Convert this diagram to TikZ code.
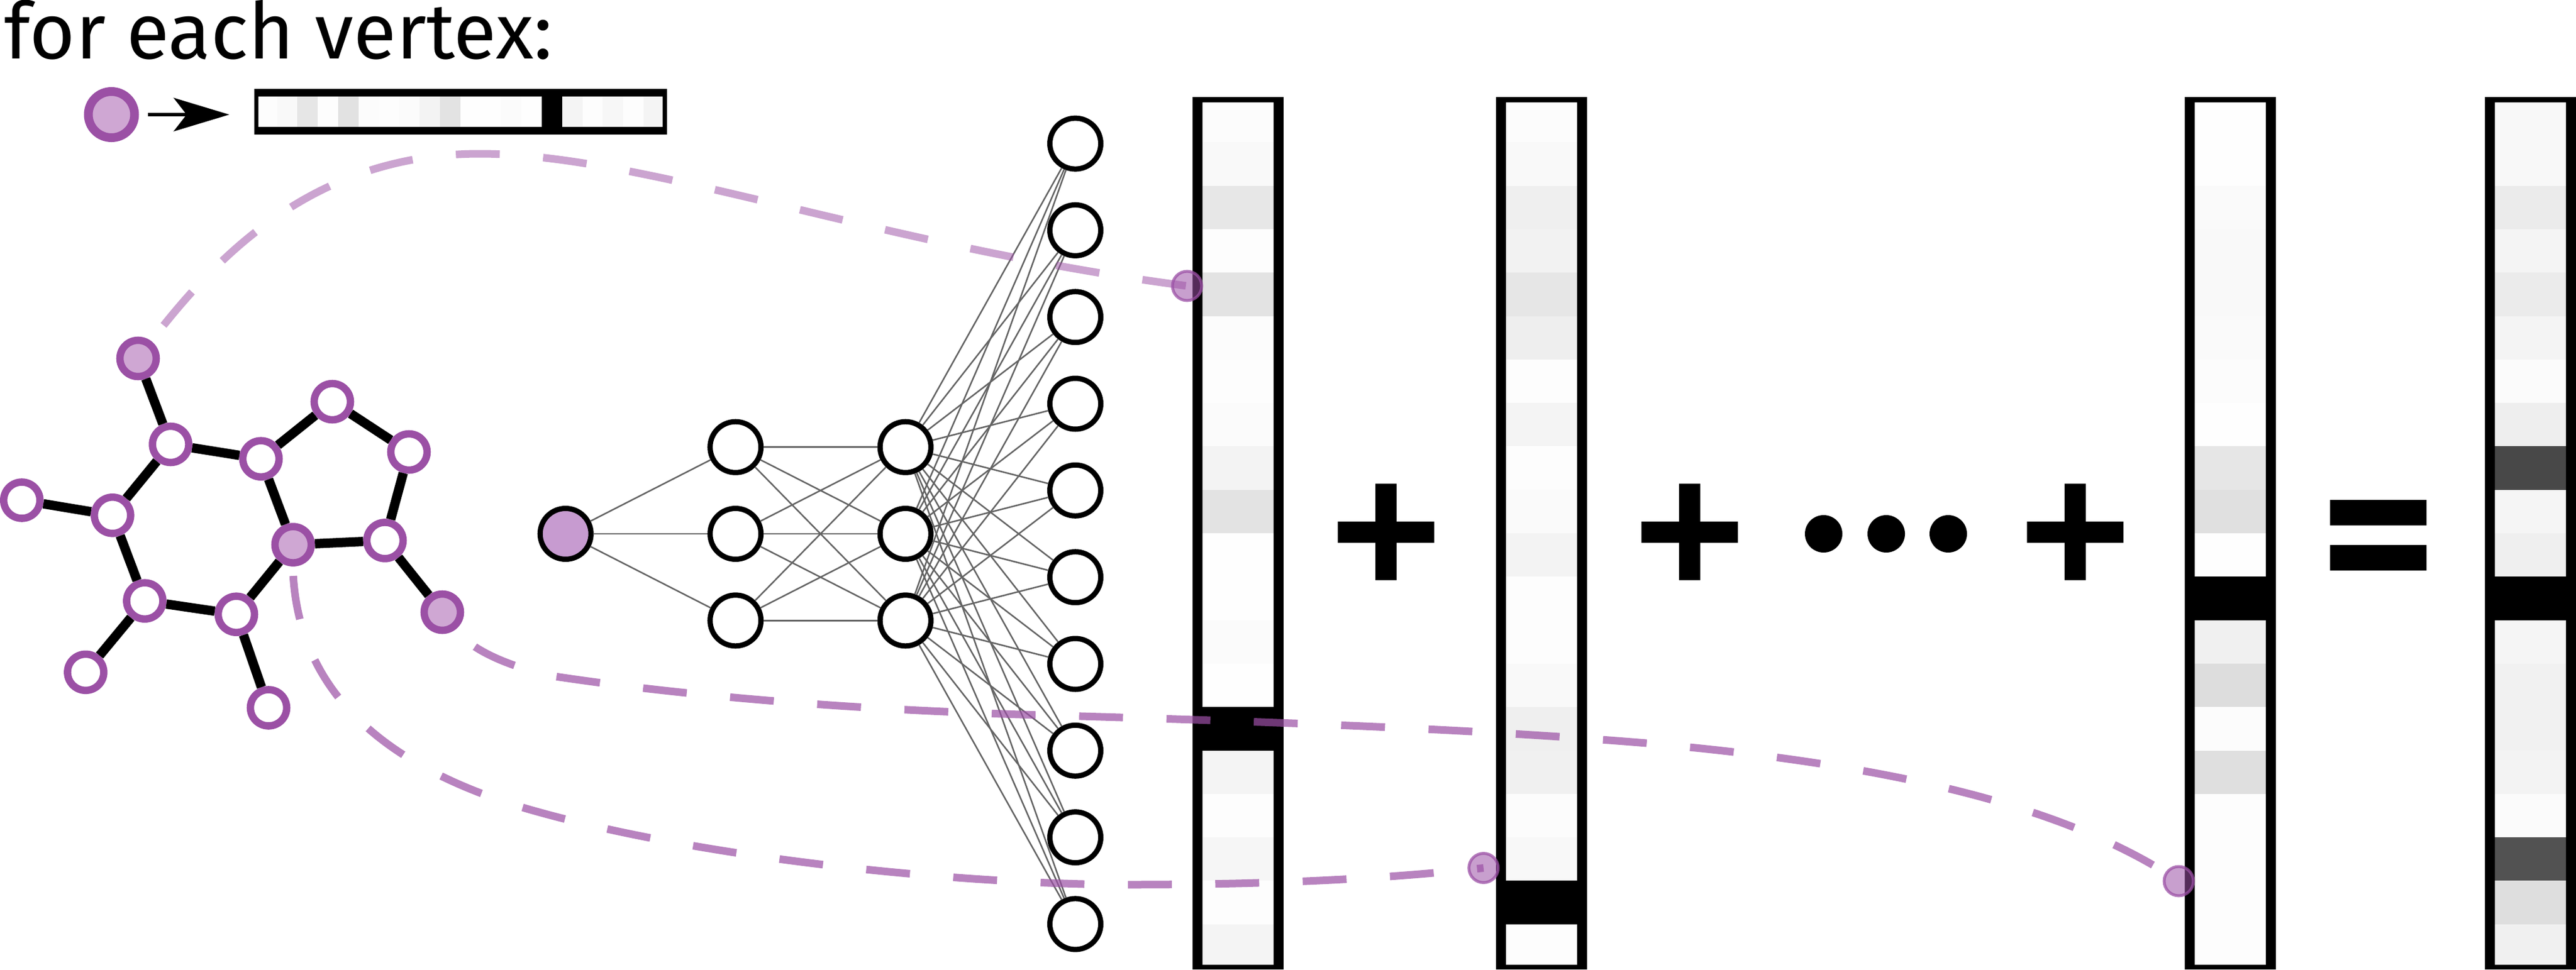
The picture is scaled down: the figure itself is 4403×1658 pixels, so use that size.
\documentclass[tikz,border=0pt]{standalone}
\usepackage{fontspec}
\setmainfont{Fira Sans}
\newfontfamily\signfont{Open Sans}
\usetikzlibrary{arrows.meta}

% one column of grey cells, with the black frame round it
\newcommand{\vecbar}[2]{
  \foreach \g [count=\i from 0] in {#2}
    \fill[color={rgb,255:red,\g;green,\g;blue,\g}] ({#1+10},{169+\i*74.3}) rectangle +(135.5,74.3);
  \fill[black,even odd rule] (#1,166) rectangle +(155.5,1492) ({#1+17},175) rectangle +(121.5,1475);
}

\definecolor{vertexpurple}{RGB}{155,80,165}
\definecolor{vertexfill}{RGB}{207,167,211}
\definecolor{inputfill}{RGB}{199,155,208}

\begin{document}
\begin{tikzpicture}[x=1pt,y=-1pt,
  mol node/.style={circle,draw=vertexpurple,fill=white,line width=12.6pt,inner sep=0pt,minimum size=62pt},
  mol pick/.style={mol node,fill=vertexfill},
  net node/.style={circle,draw=black,fill=white,line width=9pt,inner sep=0pt,minimum size=87pt},
  tip node/.style={circle,draw=vertexpurple,fill=vertexpurple,fill opacity=.55,draw opacity=.75,line width=5pt,inner sep=0pt,minimum size=50pt},
  big sign/.style={inner sep=0pt,font=\signfont\fontsize{340}{340}\selectfont\bfseries},
  dot sign/.style={circle,fill=black,inner sep=0pt,minimum size=64pt},
  bond/.style={line width=16pt},
  wire/.style={line width=2.6pt,draw={rgb,255:red,100;green,100;blue,100}},
  trail/.style={vertexpurple,line width=13pt,draw opacity=.71,dash pattern=on 75pt off 74.4pt}]

  \useasboundingbox (0,0) rectangle (4403,1658);

  \node[anchor=base west,inner sep=0pt,font=\fontsize{134}{134}\selectfont] (title) at (7,100) {for each vertex:};

  % legend
  \foreach \g [count=\i from 0] in {253,249,230,253,226,252,253,251,243,227,254,254,251,254,0,244,253,247,253,244}
    \fill[color={rgb,255:red,\g;green,\g;blue,\g}] ({438.8+\i*34.8},160) rectangle +(34.8,60);
  \fill[black,even odd rule] (434.6,152) rectangle (1140,230) (441.5,165) rectangle (1132.5,217);
  \node[mol pick,line width=15pt,minimum size=79pt] (legend) at (190.5,196) {};
  \coordinate (legendbar) at (434.6,196);
  \draw[-{Stealth[length=95pt,width=57pt,inset=22pt]},line width=6.6pt,shorten <=15pt,shorten >=42.6pt] (legend) -- (legendbar);

  % molecule
  \node[mol pick] (a) at (236,613) {};
  \node[mol node] (b) at (291.6,760) {};
  \node[mol node] (c) at (446,784.7) {};
  \node[mol node] (d) at (568,687) {};
  \node[mol node] (e) at (699,773) {};
  \node[mol node] (f) at (658,924.4) {};
  \node[mol pick] (g) at (501,931.6) {};
  \node[mol node] (h) at (404,1050.7) {};
  \node[mol node] (i) at (247.4,1027.7) {};
  \node[mol node] (j) at (192.3,881.3) {};
  \node[mol node] (k) at (37.3,855.5) {};
  \node[mol node] (l) at (146.4,1149.8) {};
  \node[mol node] (m) at (459,1210.5) {};
  \node[mol pick] (n) at (756,1047) {};

  \path[bond]
    (a) edge (b)
    (b) edge (c)
        edge (j)
    (c) edge (d)
        edge (g)
    (d) edge (e)
    (e) edge (f)
    (f) edge (g)
        edge (n)
    (g) edge (h)
    (h) edge (i)
        edge (m)
    (i) edge (j)
        edge (l)
    (j) edge (k);

  % network
  \node[net node,fill=inputfill] (in) at (966.7,913) {};
  \node[net node] (p1) at (1257.2,764.7) {};
  \node[net node] (p2) at (1257.2,913) {};
  \node[net node] (p3) at (1257.2,1061.3) {};
  \node[net node] (q1) at (1547.7,764.7) {};
  \node[net node] (q2) at (1547.7,913) {};
  \node[net node] (q3) at (1547.7,1061.3) {};
  \node[net node] (r0) at (1838,245.6) {};
  \node[net node] (r1) at (1838,393.9) {};
  \node[net node] (r2) at (1838,542.2) {};
  \node[net node] (r3) at (1838,690.5) {};
  \node[net node] (r4) at (1838,838.8) {};
  \node[net node] (r5) at (1838,987.2) {};
  \node[net node] (r6) at (1838,1135.5) {};
  \node[net node] (r7) at (1838,1283.8) {};
  \node[net node] (r8) at (1838,1432.1) {};
  \node[net node] (r9) at (1838,1580.4) {};

  \path[wire]
    (in) edge (p1) edge (p2) edge (p3)
    (p1) edge (q1) edge (q2) edge (q3)
    (p2) edge (q1) edge (q2) edge (q3)
    (p3) edge (q1) edge (q2) edge (q3)
    (q1) edge (r0) edge (r1) edge (r2) edge (r3) edge (r4) edge (r5) edge (r6) edge (r7) edge (r8) edge (r9)
    (q2) edge (r0) edge (r1) edge (r2) edge (r3) edge (r4) edge (r5) edge (r6) edge (r7) edge (r8) edge (r9)
    (q3) edge (r0) edge (r1) edge (r2) edge (r3) edge (r4) edge (r5) edge (r6) edge (r7) edge (r8) edge (r9);

  % fingerprints
  \vecbar{2038.3}{252,249,231,253,227,252,253,251,243,227,254,254,251,254,0,244,253,246,253,244}
  \vecbar{2557}{252,249,239,242,230,238,253,244,253,250,243,253,253,249,239,240,252,248,0,253}
  \vecbar{3734.3}{254,254,250,249,249,250,252,254,230,224,254,0,240,221,252,223,253,253,253,253}
  \vecbar{4247.3}{248,248,235,244,235,244,251,238,72,245,239,0,245,241,241,243,251,82,222,240}

  \node[big sign] (plus1) at (2370,929) {+};
  \node[big sign] (plus2) at (2888,929) {+};
  \node[dot sign] (dot1) at (3117,913) {};
  \node[dot sign] (dot2) at (3224,913) {};
  \node[dot sign] (dot3) at (3330,913) {};
  \node[big sign] (plus3) at (3547,929) {+};
  \node[big sign,yscale=1.2,transform shape] (equal) at (4065,957) {=};

  % dashed trails
  \node[tip node] (tip1) at (2029,489) {};
  \node[tip node] (tip2) at (2535.7,1484.5) {};
  \node[tip node] (tip3) at (3724,1507) {};

  \draw[trail,draw opacity=.52,dash phase=78pt] (a.center) .. controls (350,460) and (520,263) .. (820,263)
    .. controls (1100,263) and (1500,420) .. (tip1.center);
  \draw[trail,dash phase=96pt] (g.center) .. controls (490,1150) and (620,1300) .. (900,1383)
    .. controls (1200,1470) and (1650,1513) .. (1930,1513)
    .. controls (2150,1513) and (2350,1505) .. (tip2.center);
  \draw[trail,dash phase=105pt] (n.-50) .. controls (800,1110) and (870,1140) .. (943,1156)
    .. controls (1200,1195) and (1500,1215) .. (1764,1222.6)
    .. controls (2100,1232) and (2500,1245) .. (2814,1271)
    .. controls (3200,1305) and (3520,1370) .. (tip3.center);
\end{tikzpicture}
\end{document}
